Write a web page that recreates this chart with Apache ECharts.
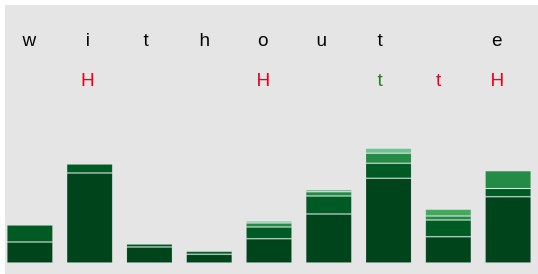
<!DOCTYPE html>
<html>
<head>
<meta charset="utf-8">
<script src="https://cdn.jsdelivr.net/npm/echarts@6/dist/echarts.min.js"></script>
<style>
html,body{margin:0;padding:0;background:#ffffff;}
#chart{position:absolute;left:0;top:0;width:538px;height:274px;}
</style>
</head>
<body>
<div id="chart"></div>
<script>
// Categories / labels
const barCategories = ['1','2','3','4','5','6','7','8','9'];
const topLetters = ['w','i','t','h','o','u','t','','e'];
const bottomLetters = ['','H','','','H','','t','t','H'];
const bottomLetterColors = ['','red','','','red','','green','red','red'];

// Stacked series values (bottom to top)
const s1 = [21, 90, 16, 8.7, 24.3, 49, 84.7, 26.3, 66.3];
const s2 = [17, 9, 3, 3, 11.7, 18, 15, 16.7, 8.3];
const s3 = [0, 0, 0, 0, 4, 4.3, 10, 4, 17.7];
const s4 = [0, 0, 0, 0, 0, 0, 0, 6.7, 0];
const s5 = [0, 0, 0, 0, 2, 2.3, 5, 0, 0];

const seriesData = [s1, s2, s3, s4, s5];
const seriesColors = ['#00441b', '#005a24', '#238b45', '#41ab5d', '#6cc495'];
const palette = {red: '#f0001c', green: '#2a7a22', black: '#000000'};

const chart = echarts.init(document.getElementById('chart'));

const option = {
  backgroundColor: 'transparent',
  animation: false,
  graphic: [{
    type: 'rect', left: 5, top: 5, z: -10,
    shape: {width: 533, height: 269},
    style: {fill: '#e5e5e5'}
  }],
  grid: [
    {left: 0, top: 63, width: 541, bottom: 11},
    {left: 0, top: 41, width: 526.5, height: 30}
  ],
  xAxis: [
    {type: 'category', gridIndex: 0, data: barCategories,
     axisLine: {show: false}, axisTick: {show: false}, axisLabel: {show: false}},
    {type: 'category', gridIndex: 1, position: 'top', data: topLetters,
     axisLine: {show: false}, axisTick: {show: false},
     axisLabel: {show: true, margin: 0, verticalAlign: 'middle', interval: 0,
       color: palette.black, fontFamily: 'Liberation Sans, Arial, sans-serif', fontSize: 19}},
    {type: 'category', gridIndex: 1, position: 'bottom',
     data: bottomLetters.map((l, i) => ({value: l, textStyle: {color: palette[bottomLetterColors[i]] || palette.black}})),
     axisLine: {show: false}, axisTick: {show: false},
     axisLabel: {show: true, margin: 0, verticalAlign: 'middle', interval: 0,
       fontFamily: 'Liberation Sans, Arial, sans-serif', fontSize: 19}}
  ],
  yAxis: [
    {type: 'value', gridIndex: 0, min: 0, max: 200, show: false},
    {type: 'value', gridIndex: 1, show: false}
  ],
  series: seriesData.map((d, k) => ({
    type: 'bar', stack: 'total', xAxisIndex: 0, yAxisIndex: 0,
    barWidth: 46,
    data: d.map(v => v || '-'),
    itemStyle: {color: seriesColors[k], borderColor: 'rgba(200,230,210,0.1)', borderWidth: 1}
  }))
};
chart.setOption(option);
</script>
</body>
</html>
